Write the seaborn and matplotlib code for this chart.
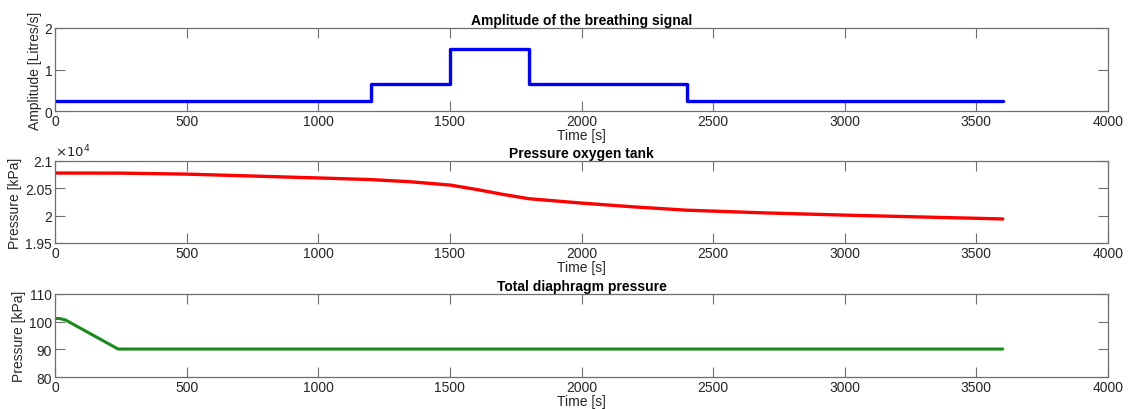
import numpy as np
import pandas as pd
import matplotlib
matplotlib.use("Agg")
import matplotlib.pyplot as plt
import seaborn as sns

# ---- data ----
amp_time = [0, 1200, 1200, 1500, 1500, 1800, 1800, 2400, 2400, 3600]
amp_vals = [0.25, 0.25, 0.65, 0.65, 1.5, 1.5, 0.65, 0.65, 0.25, 0.25]

tank_time = [0, 250, 500, 750, 1000, 1200, 1350, 1500, 1600, 1700, 1800,
             2000, 2200, 2400, 2700, 3000, 3300, 3600]
tank_vals = [20780, 20778, 20760, 20725, 20690, 20660, 20620, 20560, 20480,
             20390, 20310, 20230, 20160, 20100, 20050, 20010, 19975, 19940]

diaph_time = [0, 20, 40, 240, 600, 1200, 1800, 2400, 3000, 3600]
diaph_vals = [101.2, 101.1, 100.6, 90.1, 90.1, 90.1, 90.1, 90.1, 90.1, 90.1]

xticks = [0, 500, 1000, 1500, 2000, 2500, 3000, 3500, 4000]

sns.set_style("white")
plt.rcParams['font.family'] = ['Liberation Sans', 'DejaVu Sans']

txt = "#262626"
spine = "#6e6e6e"
fs = 10

fig = plt.figure(figsize=(11.28, 4.10), dpi=100)
L, W = 55 / 1128, (1108 - 55) / 1128
boxes = [(29, 112), (162, 244), (295, 378)]
axes = []
for top, bot in boxes:
    ax = fig.add_axes([L, 1 - bot / 410, W, (bot - top) / 410])
    axes.append(ax)

df1 = pd.DataFrame({"t": amp_time, "v": amp_vals})
df2 = pd.DataFrame({"t": tank_time, "v": np.array(tank_vals) / 1e4})
df3 = pd.DataFrame({"t": diaph_time, "v": diaph_vals})

sns.lineplot(data=df1, x="t", y="v", ax=axes[0], color="#0000ff", lw=2.4, sort=False, estimator=None)
sns.lineplot(data=df2, x="t", y="v", ax=axes[1], color="#ff0000", lw=2.4, sort=False, estimator=None)
sns.lineplot(data=df3, x="t", y="v", ax=axes[2], color="#1a8a1a", lw=2.2, sort=False, estimator=None)

titles = ["Amplitude of the breathing signal", "Pressure oxygen tank", "Total diaphragm pressure"]
ylabels = ["Amplitude [Litres/s]", "Pressure [kPa]", "Pressure [kPa]"]
ylims = [(0, 2), (1.95, 2.1), (80, 110)]
yticks = [[0, 1, 2], [1.95, 2.0, 2.05, 2.1], [80, 90, 100, 110]]
yticklabels = [["0", "1", "2"], ["1.95", "2", "2.05", "2.1"], ["80", "90", "100", "110"]]

for ax, ti, yl, lim, yt, ytl in zip(axes, titles, ylabels, ylims, yticks, yticklabels):
    ax.set_xlim(0, 4000)
    ax.set_ylim(*lim)
    ax.set_xticks(xticks)
    ax.set_xticklabels([str(x) for x in xticks])
    ax.set_yticks(yt)
    ax.set_yticklabels(ytl)
    ax.set_title(ti, fontsize=fs, fontweight="bold", color="black", pad=3)
    ax.set_xlabel("Time [s]", fontsize=fs, color=txt, labelpad=0)
    ax.set_ylabel(yl, fontsize=fs, color=txt, labelpad=2)
    ax.tick_params(direction="in", length=7, width=0.8, colors=spine, labelcolor=txt,
                   labelsize=fs, top=True, right=True, bottom=True, left=True, pad=2)
    for s in ax.spines.values():
        s.set_color(spine)
        s.set_linewidth(0.9)
    ax.grid(False)

axes[1].text(0.0, 1.02, r"$\times10^{4}$", transform=axes[1].transAxes,
             fontsize=9.5, color=txt, ha="left", va="bottom")

fig.savefig("out.png", dpi=100)
